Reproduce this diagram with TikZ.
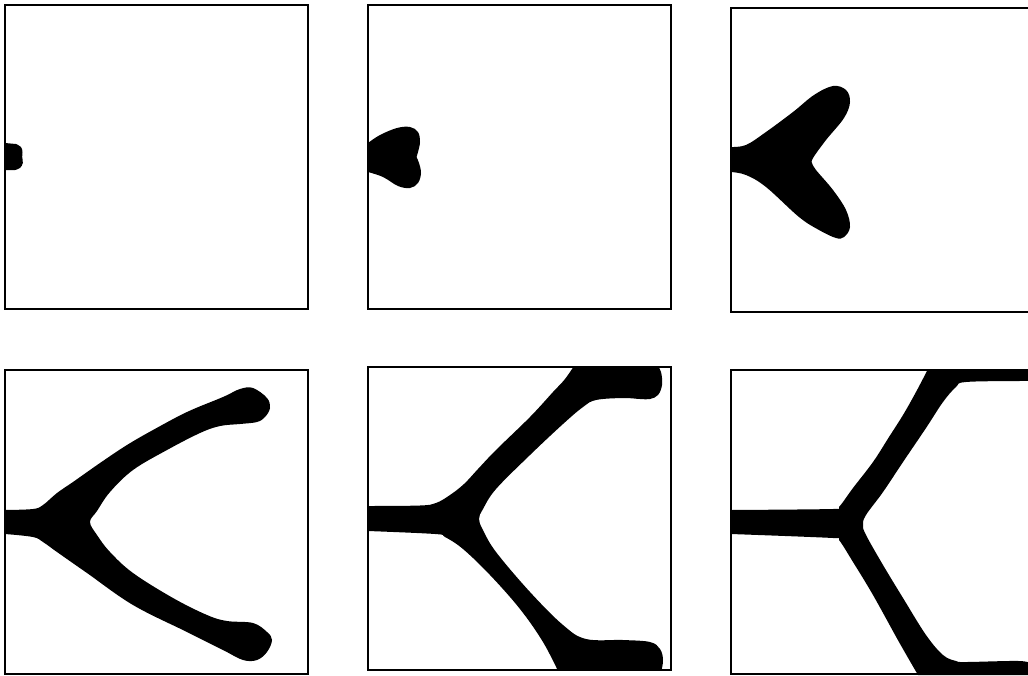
\documentclass[tikz,border=0pt]{standalone}
\begin{document}
\begin{tikzpicture}[x=1pt,y=-1pt,
  panel/.style={draw=black,line width=1.2pt},
  blob/.style={fill=black},
  sm/.style={smooth,tension=0.6}]
\useasboundingbox (0,0) rectangle (1028,675);
\clip (0,0) rectangle (1028,675);
% Panel 1
\fill[blob] (5,143) -- plot[sm] coordinates {(16,144) (21,147) (22.5,152) (22.2,157) (22.8,163) (20,168) (15,170)} -- (5,170) -- cycle;
\draw[panel] (5,5) rectangle (308,309);
% Panel 2
\fill[blob] (368,143) -- plot[sm] coordinates {(368,143) (380,135) (397,128) (410,127) (418,132) (420,142) (418,152) (416.5,157)}
  -- plot[sm] coordinates {(416.5,157) (419,163) (421,173) (418,183) (410,188) (398,186) (383,177) (368,172)} -- cycle;
\draw[panel] (368,5) rectangle (671,309);
% Panel 3
\fill[blob] (731,147) -- plot[sm] coordinates {(731,147) (746,145) (766,132) (793,112) (814,95) (833,86) (846,90) (850,102) (844,118) (826,140) (813,158) (812,163)}
  -- plot[sm] coordinates {(812,163) (816,170) (833,190) (846,210) (850,227) (844,237) (836,238) (819,230) (799,217) (766,187) (746,175) (731,172)} -- cycle;
\draw[panel] (731,8) rectangle (1040,312);
% Panel 4
\fill[blob] (5,510) -- plot[sm] coordinates {(5,510) (33,509) (43,505) (57,493) (73,482) (100,463) (127,445) (153,430) (187,412) (223,397) (240,389) (253,388) (267,398) (270,408) (265,417) (257,422) (240,424) (220,426) (200,433) (167,450) (133,470) (110,492) (97,511) (90,522) (97,535) (110,552) (133,573) (173,598) (207,615) (227,621) (253,623) (267,632) (272,640) (267,652) (257,660) (243,660) (223,650) (187,632) (133,605) (87,573) (57,552) (43,542) (33,537) (5,534)} -- cycle;
\draw[panel] (5,370) rectangle (308,674);
% Panel 5
\begin{scope}
\clip (368,367) rectangle (671,670);
\fill[blob] (368,506) -- plot[sm] coordinates {(368,506) (420,505.5) (436,503) (450,495) (464,484) (478,469) (496,450) (530,417) (553,392) (565,379) (576,363)}
  -- (656,363) -- plot[sm] coordinates {(656,363) (661,372) (662,385) (658,395) (650,399) (640,399) (623,398) (596,400) (583,407) (563,424) (530,455) (496,489) (483,509) (479,519) (483,530) (496,552) (530,592) (563,625) (586,639) (623,640) (650,642) (660,649) (663,660) (661,673)}
  -- (559,673) -- plot[sm] coordinates {(559,673) (543,642) (520,609) (490,575) (463,549) (445,537) (435,534) (368,531)} -- cycle;
\end{scope}
\draw[panel] (368,367) rectangle (671,670);
% Panel 6
\fill[blob] (731,510) -- plot[sm] coordinates {(731,510) (833,509) (839,507) (853,488) (873,462) (889,437) (903,415) (916,392) (928,369)}
  -- (1032,369) -- (1032,381) -- plot[sm] coordinates {(1032,381) (1019,381) (966,382) (956,387) (943,402) (926,428) (903,462) (883,492) (866,515) (863,525) (866,535) (883,565) (903,598) (926,635) (943,655) (956,661) (966,662) (1019,661) (1032,664)}
  -- (1032,675) -- (918,675) -- plot[sm] coordinates {(918,675) (899,642) (873,595) (853,562) (839,540) (833,538) (731,534)} -- cycle;
\draw[panel] (731,370) rectangle (1040,674);
\end{tikzpicture}
\end{document}
